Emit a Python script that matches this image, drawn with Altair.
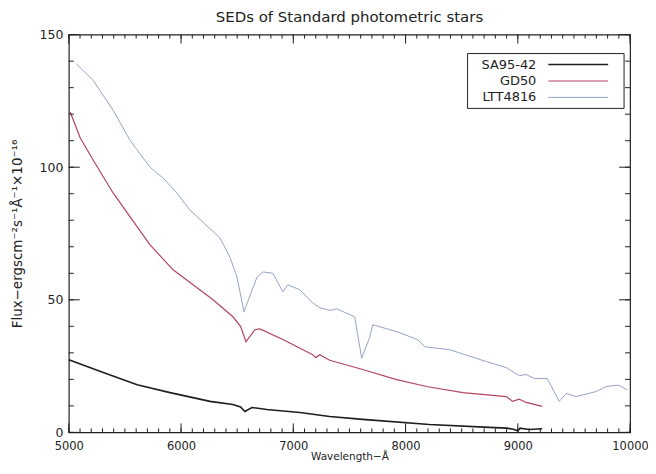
import altair as alt
import pandas as pd

names = ["SA95-42", "GD50", "LTT4816"]
colors = ["#1e1e1e", "#b3465e", "#98a2c6"]
widths = [1.6, 1.2, 1.0]

sa_wl = [5000, 5307, 5609, 5902, 6258, 6462, 6530, 6569, 6631, 6702, 6764, 7058, 7324, 7618, 8213,
         8747, 8900, 8960, 9000, 9020, 9100, 9218]
sa_fx = [27.4, 22.6, 18.0, 15.0, 11.7, 10.5, 9.6, 7.9, 9.4, 9.0, 8.6, 7.5, 6.0, 4.9, 3.0,
         1.9, 1.6, 1.2, 0.6, 1.6, 1.1, 1.4]

gd_wl = [5013, 5102, 5218, 5396, 5724, 5929, 6285, 6462, 6530, 6578, 6658, 6702, 6907,
         7173, 7200, 7236, 7324, 7618, 7920, 8187, 8511, 8898, 8953, 9013, 9075, 9218]
gd_fx = [120.7, 111.0, 102.6, 90.2, 70.7, 61.3, 50.0, 43.6, 40.0, 34.2, 38.7, 39.0, 35.0,
         29.3, 28.2, 29.3, 27.2, 23.7, 19.9, 17.3, 15.0, 13.5, 11.7, 12.5, 11.3, 9.8]

ltt_wl = [5067, 5218, 5396, 5547, 5724, 5787, 5840, 5964, 6080, 6347, 6436, 6498, 6560, 6676, 6729,
          6818, 6907, 6951, 7058, 7173, 7236, 7324, 7387, 7547, 7609, 7680, 7707, 7920, 8107, 8170,
          8391, 8720, 8898, 9013, 9075, 9147, 9262, 9369, 9431, 9520, 9698, 9787, 9900, 9973]
ltt_fx = [139.0, 132.7, 121.4, 110.0, 100.0, 97.7, 95.9, 90.2, 83.8, 73.3, 66.0, 58.6, 45.5, 58.5, 60.5,
          60.0, 53.0, 55.6, 53.8, 48.8, 47.0, 46.0, 46.6, 43.6, 28.0, 35.7, 40.6, 38.0, 35.0, 32.3,
          31.2, 26.7, 24.4, 21.4, 21.8, 20.3, 20.3, 11.7, 14.7, 13.5, 15.4, 17.3, 17.8, 16.0]

x_major = [5000, 6000, 7000, 8000, 9000, 10000]
x_minor = list(range(5000, 10001, 100))
y_major = [0, 50, 100, 150]
y_minor = list(range(0, 151, 10))

W, H = 563, 399

rows = []
for n, wl, fx in [(names[0], sa_wl, sa_fx), (names[1], gd_wl, gd_fx), (names[2], ltt_wl, ltt_fx)]:
    for a, b in zip(wl, fx):
        rows.append({"star": n, "wl": a, "flux": b})
df = pd.DataFrame(rows)

FONT = "DejaVu Sans"
xs = alt.Scale(domain=[5000, 10000], nice=False, zero=False)
ys = alt.Scale(domain=[0, 150], nice=False)
common = dict(ticks=False, tickSize=0, domain=False, grid=False, format="d",
              labelFont=FONT, labelColor="#222", labelFlush=False, labelOverlap=False,
              titleFont=FONT, titleFontWeight="normal", titleColor="#222")
xaxis = alt.Axis(values=x_major, labelFontSize=11.5, labelPadding=8, titlePadding=0,
                 titleFontSize=10.5, **common)
yaxis = alt.Axis(values=y_major, labelFontSize=12.5, labelPadding=6, titlePadding=15,
                 titleFontSize=13.5, **common)
XT = "Wavelength−Å"
YT = "Flux−ergscm⁻²s⁻¹Å⁻¹×10⁻¹⁶"


def X(f):
    return alt.X(f, scale=xs, title=XT, axis=xaxis)


def Y(f):
    return alt.Y(f, scale=ys, title=YT, axis=yaxis)


layers = []
for n, c, w in zip(names, colors, widths):
    layers.append(
        alt.Chart(df[df.star == n]).mark_line(strokeWidth=w, color=c).encode(
            x=X("wl:Q"), y=Y("flux:Q"))
    )


def xticks(vals, ln):
    d = pd.DataFrame({"t": vals})
    b = alt.Chart(d).mark_rule(color="#222", strokeWidth=1).encode(
        x=X("t:Q"), y=alt.value(H), y2=alt.value(H - ln))
    t = alt.Chart(d).mark_rule(color="#222", strokeWidth=1).encode(
        x=X("t:Q"), y=alt.value(0), y2=alt.value(ln))
    return [b, t]


def yticks(vals, ln):
    d = pd.DataFrame({"t": vals})
    l = alt.Chart(d).mark_rule(color="#222", strokeWidth=1).encode(
        y=Y("t:Q"), x=alt.value(0), x2=alt.value(ln))
    r = alt.Chart(d).mark_rule(color="#222", strokeWidth=1).encode(
        y=Y("t:Q"), x=alt.value(W), x2=alt.value(W - ln))
    return [l, r]


layers += xticks(x_minor, 4) + xticks(x_major, 9) + yticks(y_minor, 5) + yticks(y_major, 11)

# legend box
box = alt.Chart(pd.DataFrame({"a": [0]})).mark_rect(fill="white", stroke="#222", strokeWidth=1).encode(
    x=alt.value(400), x2=alt.value(557), y=alt.value(19), y2=alt.value(74))
layers.append(box)
for i, (n, c) in enumerate(zip(names, colors)):
    yy = 30 + 16.5 * i
    layers.append(alt.Chart(pd.DataFrame({"star": [n]})).mark_text(
        align="right", baseline="middle", fontSize=13, font=FONT, color="#222").encode(
        text="star:N", x=alt.value(469), y=alt.value(yy)))
    layers.append(alt.Chart(pd.DataFrame({"star": [n]})).mark_rule(
        color=c, strokeWidth=widths[i]).encode(
        x=alt.value(481), x2=alt.value(541), y=alt.value(yy)))

chart = alt.layer(*layers).properties(
    width=W, height=H, background="white",
    title=alt.TitleParams("SEDs of Standard photometric stars", fontSize=15, font=FONT,
                          fontWeight="normal", color="#222", anchor="middle", offset=4),
    autosize=alt.AutoSizeParams(type="none"),
    padding={"left": 61, "top": 26, "right": 18, "bottom": 30},
).configure_view(stroke="#222", strokeWidth=1.2)

chart.save("out.html", embed_options={"renderer": "svg", "actions": False})
